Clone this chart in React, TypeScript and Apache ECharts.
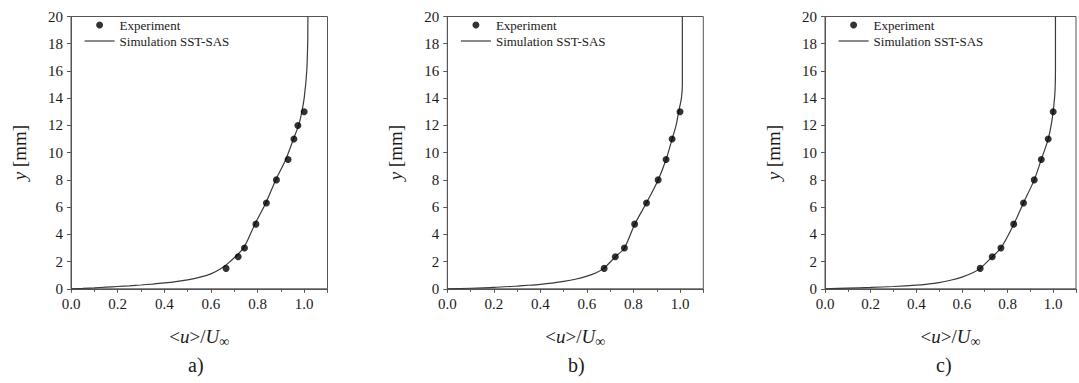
import React, { useEffect, useRef } from "react";
import * as echarts from "echarts";

// ---- data ----
const panelLabels = ["a)", "b)", "c)"];
const seriesNames = ["Experiment", "Simulation SST-SAS"];

// Experiment points
const expXa = [0.665, 0.717, 0.744, 0.793, 0.838, 0.881, 0.931, 0.956, 0.973, 1.0];
const expYa = [1.5, 2.35, 3.0, 4.75, 6.3, 8.0, 9.5, 11.0, 12.0, 13.0];
const expXb = [0.674, 0.722, 0.761, 0.805, 0.856, 0.906, 0.94, 0.966, 1.0];
const expYb = [1.5, 2.35, 3.0, 4.75, 6.3, 8.0, 9.5, 11.0, 13.0];
const expXc = [0.68, 0.733, 0.771, 0.827, 0.87, 0.917, 0.948, 0.978, 1.0];
const expYc = [1.5, 2.35, 3.0, 4.75, 6.3, 8.0, 9.5, 11.0, 13.0];

// Simulation SST-SAS profiles
const simXa = [0, 0.05, 0.1, 0.15, 0.2, 0.25, 0.3, 0.35, 0.4, 0.45, 0.5, 0.55, 0.6, 0.64, 0.682, 0.74, 0.788, 0.836, 0.878, 0.921, 0.954, 0.976, 0.99, 1.0, 1.011, 1.015, 1.016];
const simYa = [0, 0.03, 0.07, 0.12, 0.17, 0.22, 0.28, 0.35, 0.43, 0.53, 0.66, 0.84, 1.1, 1.45, 2.0, 3.0, 4.73, 6.32, 8.0, 9.5, 11.0, 12.0, 13.0, 14.0, 16.0, 18.0, 20.0];
const simXb = [0, 0.1, 0.2, 0.3, 0.35, 0.4, 0.45, 0.5, 0.55, 0.6, 0.64, 0.672, 0.722, 0.761, 0.805, 0.856, 0.906, 0.94, 0.966, 0.983, 0.994, 1.006, 1.01, 1.01, 1.01];
const simYb = [0, 0.04, 0.1, 0.2, 0.26, 0.33, 0.42, 0.54, 0.7, 0.93, 1.18, 1.5, 2.35, 3.0, 4.73, 6.32, 8.0, 9.5, 11.0, 12.0, 13.0, 14.0, 15.0, 17.0, 20.0];
const simXc = [0, 0.1, 0.2, 0.3, 0.4, 0.45, 0.5, 0.55, 0.6, 0.65, 0.68, 0.733, 0.771, 0.827, 0.87, 0.917, 0.948, 0.978, 0.994, 1.003, 1.008, 1.01, 1.01];
const simYc = [0, 0.05, 0.1, 0.17, 0.27, 0.35, 0.46, 0.63, 0.86, 1.2, 1.5, 2.35, 3.0, 4.73, 6.32, 8.0, 9.5, 11.0, 12.3, 13.5, 14.5, 16.0, 20.0];

const expX = [expXa, expXb, expXc];
const expY = [expYa, expYb, expYc];
const simX = [simXa, simXb, simXc];
const simY = [simYa, simYb, simYc];

// ---- layout ----
const FONT = "'Liberation Serif', 'Times New Roman', serif";
const gridLeft = [71, 447.3, 825];
const gridWidth = [256.5, 256, 262];
const gridTop = 16.5;
const gridHeight = 272.3;
const labelX = [197, 577, 945];

const zip = (xs: number[], ys: number[]) => xs.map((x, i) => [x, ys[i]]);

export default function App() {
  const ref = useRef<HTMLDivElement>(null);
  useEffect(() => {
    document.body.style.margin = "0";
    const chart = echarts.init(ref.current!, null, { renderer: "svg" });
    const axisColor = "#555";
    const textColor = "#1a1a1a";
    const grids: any[] = [];
    const xAxes: any[] = [];
    const yAxes: any[] = [];
    const series: any[] = [];
    const legends: any[] = [];
    const graphics: any[] = [];
    for (let p = 0; p < 3; p++) {
      grids.push({
        left: gridLeft[p],
        top: gridTop,
        width: gridWidth[p],
        height: gridHeight,
        show: true,
        borderColor: axisColor,
        borderWidth: 1,
        containLabel: false,
      });
      xAxes.push({
        type: "value",
        gridIndex: p,
        min: 0,
        max: 1.1,
        interval: 0.2,
        name: "{n|<}{i|u}{n|>/}{i|U}{s|∞}",
        nameLocation: "middle",
        nameGap: 36,
        nameTextStyle: {
          rich: {
            n: { fontFamily: FONT, fontSize: 19, color: textColor },
            i: { fontFamily: FONT, fontSize: 19, fontStyle: "italic", color: textColor },
            s: { fontFamily: FONT, fontSize: 14, color: textColor, padding: [10, 0, 0, 0] },
          },
        },
        axisLine: { lineStyle: { color: axisColor, width: 1 } },
        axisTick: { show: true, length: 4, lineStyle: { color: axisColor } },
        minorTick: { show: true, splitNumber: 2, length: 3, lineStyle: { color: axisColor } },
        splitLine: { show: false },
        minorSplitLine: { show: false },
        axisLabel: {
          fontFamily: FONT,
          fontSize: 15,
          color: textColor,
          margin: 8,
          formatter: (v: number) => (v > 1.05 ? "" : v.toFixed(1)),
        },
      });
      yAxes.push({
        type: "value",
        gridIndex: p,
        min: 0,
        max: 20,
        interval: 2,
        name: "{i|y} [mm]",
        nameLocation: "middle",
        nameGap: 42,
        nameRotate: 90,
        nameTextStyle: {
          fontFamily: FONT,
          fontSize: 19,
          color: textColor,
          rich: {
            i: { fontFamily: FONT, fontSize: 19, fontStyle: "italic", color: textColor },
          },
        },
        axisLine: { show: true, lineStyle: { color: axisColor, width: 1 } },
        axisTick: { show: true, length: 4, lineStyle: { color: axisColor } },
        splitLine: { show: false },
        axisLabel: { fontFamily: FONT, fontSize: 15, color: textColor, margin: 8 },
      });
      series.push({
        name: seriesNames[0],
        type: "scatter",
        xAxisIndex: p,
        yAxisIndex: p,
        symbol: "circle",
        symbolSize: 7,
        itemStyle: { color: "#000" },
        data: zip(expX[p], expY[p]),
        z: 3,
      });
      series.push({
        name: seriesNames[1],
        type: "line",
        xAxisIndex: p,
        yAxisIndex: p,
        symbol: "none",
        smooth: 0.3,
        lineStyle: { color: "#3a3a3a", width: 1.2 },
        itemStyle: { color: "#3a3a3a" },
        data: zip(simX[p], simY[p]),
        z: 2,
      });
      legends.push({
        orient: "vertical",
        left: gridLeft[p] + 13,
        top: 18.5,
        padding: 0,
        itemWidth: 30,
        itemHeight: 7,
        itemGap: 3,
        selectedMode: false,
        data: [
          { name: seriesNames[0], icon: "circle" },
          {
            name: seriesNames[1],
            itemStyle: { color: "rgba(0,0,0,0)", borderColor: "rgba(0,0,0,0)", borderWidth: 0, opacity: 0 },
            lineStyle: { color: "#3a3a3a", width: 1.2 },
          },
        ],
        textStyle: { fontFamily: FONT, fontSize: 13, color: textColor },
      });
      graphics.push({
        type: "text",
        left: labelX[p] - 9,
        top: 355,
        style: { text: panelLabels[p], font: `20px ${FONT}`, fill: textColor },
      });
    }
    chart.setOption({
      animation: false,
      backgroundColor: "#fff",
      grid: grids,
      xAxis: xAxes,
      yAxis: yAxes,
      series,
      legend: legends,
      graphic: graphics,
    });
    return () => chart.dispose();
  }, []);
  return <div ref={ref} style={{ width: 1079, height: 383 }} />;
}
